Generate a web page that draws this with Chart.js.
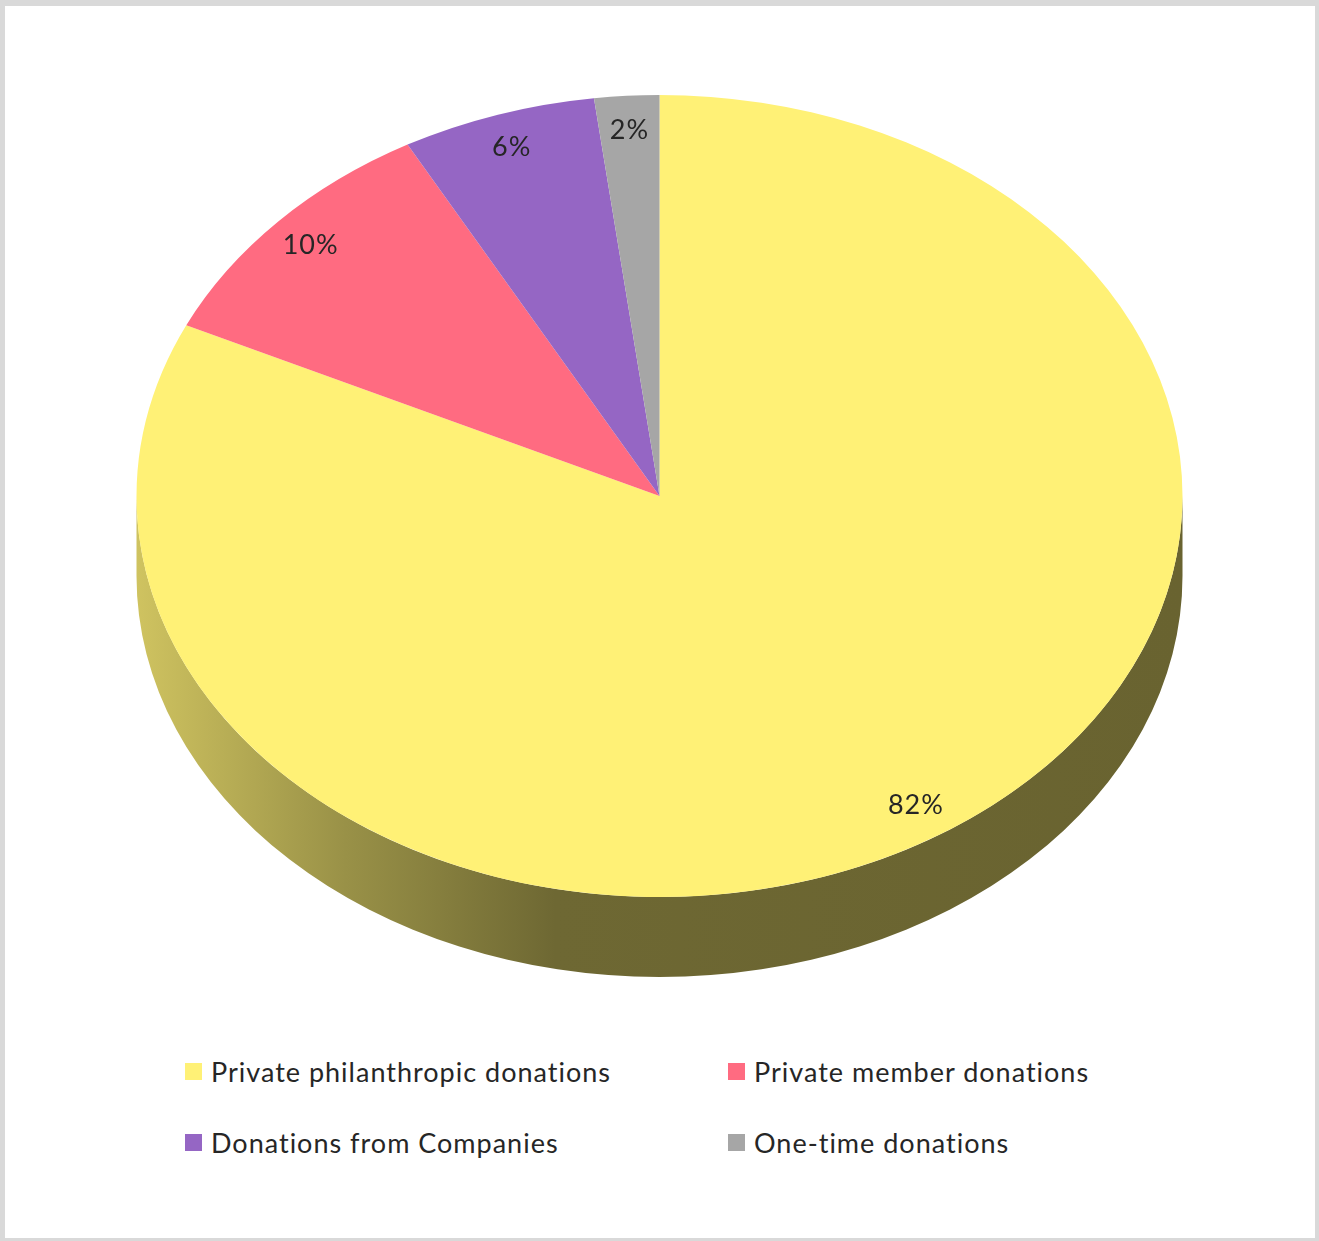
<!DOCTYPE html>
<html>
<head>
<meta charset="utf-8">
<script src="https://cdn.jsdelivr.net/npm/chart.js@4.4.0/dist/chart.umd.min.js"></script>
<style>
html, body { margin: 0; padding: 0; background: #d9d9d9; }
#marco { position: absolute; left: 5px; top: 6px; width: 1310px; height: 1232px; background: #fff; }
#grafico { position: absolute; left: 0; top: 0; }
#leyenda { position: absolute; left: 0; top: 0; font-family: Lato, sans-serif; font-size: 27px; letter-spacing: 1px; color: #262626; }
.item { position: absolute; display: flex; align-items: center; white-space: nowrap; height: 30px; }
.cuadro { width: 17px; height: 17px; margin-right: 9px; }
</style>
</head>
<body>
<div id="marco"></div>
<canvas id="grafico" width="1319" height="1046"></canvas>
<div id="leyenda"></div>
<script>
// datos del gráfico
const categorias = ['Private philanthropic donations', 'Private member donations', 'Donations from Companies', 'One-time donations'];
const porcentajes = [82, 10, 6, 2];
const colores = ['#fff176', '#ff6b81', '#9566c4', '#a6a6a6'];

// geometría del pastel "3D"
const centroY = 496;
const radio = 523;
const radioY = 401;
const grosor = 80;
const k = radioY / radio;

function oscurecer(hex, f) {
	const n = parseInt(hex.slice(1), 16);
	const r = Math.round(((n >> 16) & 255) * f);
	const g = Math.round(((n >> 8) & 255) * f);
	const b = Math.round((n & 255) * f);
	return `rgb(${r},${g},${b})`;
}

const pastel3d = {
	id: 'pastel3d',
	beforeDatasetsDraw(chart) {
		const ctx = chart.ctx;
		const meta = chart.getDatasetMeta(0);
		const cx = meta.data[0].x;
		// costado visible (mitad frontal del cilindro)
		ctx.save();
		meta.data.forEach((arc, i) => {
			[[0, Math.PI], [2 * Math.PI, 3 * Math.PI]].forEach(([lo, hi]) => {
				const a0 = Math.max(arc.startAngle, lo);
				const a1 = Math.min(arc.endAngle, hi);
				if (a1 <= a0) return;
				const grad = ctx.createLinearGradient(cx - radio, 0, cx + radio, 0);
				grad.addColorStop(0, oscurecer(colores[i], 0.81));
				grad.addColorStop(0.2, oscurecer(colores[i], 0.6));
				grad.addColorStop(0.4, oscurecer(colores[i], 0.43));
				grad.addColorStop(1, oscurecer(colores[i], 0.41));
				ctx.fillStyle = grad;
				ctx.beginPath();
				ctx.ellipse(cx, centroY, radio, radioY, 0, a0, a1);
				ctx.ellipse(cx, centroY + grosor, radio, radioY, 0, a1, a0, true);
				ctx.closePath();
				ctx.fill();
			});
		});
		ctx.restore();
		// cara superior aplastada en vertical
		ctx.save();
		ctx.translate(cx, centroY);
		ctx.scale(1, k);
		ctx.translate(-cx, -meta.data[0].y);
	},
	afterDatasetsDraw(chart) {
		const ctx = chart.ctx;
		ctx.restore();
		const meta = chart.getDatasetMeta(0);
		ctx.save();
		ctx.font = '27px Lato, sans-serif';
		ctx.letterSpacing = '1px';
		ctx.fillStyle = '#262626';
		ctx.textAlign = 'center';
		ctx.textBaseline = 'middle';
		meta.data.forEach((arc, i) => {
			const medio = (arc.startAngle + arc.endAngle) / 2;
			const r = radio * 0.915;
			const x = arc.x + r * Math.cos(medio);
			const y = centroY + r * k * Math.sin(medio);
			ctx.fillText(porcentajes[i] + '%', x, y);
		});
		ctx.restore();
	}
};

const chart = new Chart(document.getElementById('grafico'), {
	type: 'pie',
	data: {
		labels: categorias,
		datasets: [{
			data: porcentajes,
			backgroundColor: colores,
			borderWidth: 0,
			radius: radio,
			clip: false
		}]
	},
	options: {
		responsive: false,
		animation: false,
		layout: { padding: 0 },
		plugins: {
			legend: { display: false },
			tooltip: { enabled: false }
		}
	},
	plugins: [pastel3d]
});

// leyenda en dos columnas
const leyenda = document.getElementById('leyenda');
const columnasX = [185, 728];
const filasY = [1056, 1127];
categorias.forEach((nombre, i) => {
	const item = document.createElement('div');
	item.className = 'item';
	item.style.left = columnasX[i % 2] + 'px';
	item.style.top = filasY[Math.floor(i / 2)] + 'px';
	const cuadro = document.createElement('span');
	cuadro.className = 'cuadro';
	cuadro.style.background = colores[i];
	const texto = document.createElement('span');
	texto.textContent = nombre;
	item.appendChild(cuadro);
	item.appendChild(texto);
	leyenda.appendChild(item);
});
</script>
</body>
</html>
